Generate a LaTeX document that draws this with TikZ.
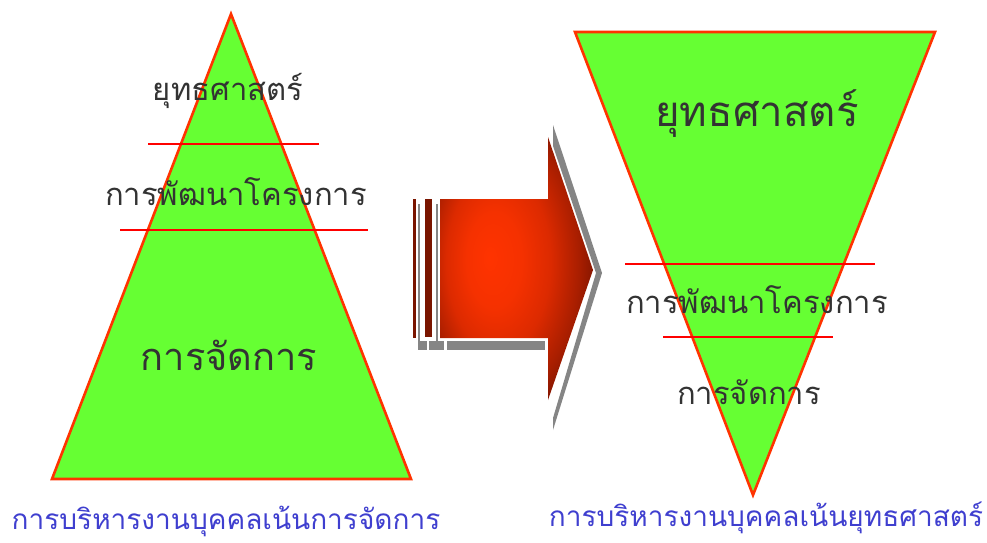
\documentclass[tikz,border=0pt]{standalone}
\usepackage{fontspec}
\newfontfamily\thaifont[Script=Thai]{Loma}
\definecolor{trifill}{HTML}{66FF33}
\definecolor{triedge}{HTML}{FF3300}
\definecolor{cutline}{HTML}{FF0000}
\definecolor{capblue}{HTML}{3F3FCF}
\definecolor{arrdark}{HTML}{7A1500}
\definecolor{arrc0}{HTML}{FF3300}
\definecolor{arrc1}{HTML}{F53100}
\definecolor{arrc2}{HTML}{DC2A00}
\definecolor{arrc3}{HTML}{A81E00}
\definecolor{arrc4}{HTML}{761200}
\definecolor{shadowgray}{HTML}{858585}
\pgfdeclareradialshading{arrowrad}{\pgfpoint{-9bp}{2bp}}{color(0bp)=(arrc0); color(9bp)=(arrc1); color(17bp)=(arrc2); color(25bp)=(arrc3); color(31bp)=(arrc4); color(50bp)=(arrc4)}
\tikzset{
  tri/.style={fill=trifill, draw=triedge, line width=2.6pt, line join=miter},
  cutln/.style={draw=cutline, line width=2.8pt},
  lbl/.style={font=\thaifont, text=black!80, inner sep=0pt},
  captext/.style={font=\thaifont, text=capblue, inner sep=0pt},
  shadowfill/.style={fill=shadowgray, draw=none},
  darkbar/.style={fill=arrdark, draw=none}
}
\begin{document}
\begin{tikzpicture}[x=1pt,y=-1pt]
\useasboundingbox (0,0) rectangle (987,542);
% left pyramid
\draw[tri] (231,14) -- (411,479) -- (52,479) -- cycle;
\draw[cutln] (148,144) -- (319,144);
\draw[cutln] (120,230) -- (368,230);
\node[lbl, font=\thaifont\fontsize{31}{36}\selectfont] (l1) at (228,91) {ยุทธศาสตร์};
\node[lbl, font=\thaifont\fontsize{31}{36}\selectfont] (l2) at (236,192) {การพัฒนาโครงการ};
\node[lbl, font=\thaifont\fontsize{38}{44}\selectfont] (l3) at (229,355) {การจัดการ};
% right inverted pyramid
\draw[tri] (575,32) -- (935,32) -- (753,495) -- cycle;
\draw[cutln] (625,264) -- (875,264);
\draw[cutln] (663,337) -- (833,337);
\node[lbl, font=\thaifont\fontsize{42}{48}\selectfont] (r1) at (757,114) {ยุทธศาสตร์};
\node[lbl, font=\thaifont\fontsize{31}{36}\selectfont] (r2) at (757,300) {การพัฒนาโครงการ};
\node[lbl, font=\thaifont\fontsize{31}{36}\selectfont] (r3) at (749,392) {การจัดการ};
% captions
\node[captext, font=\thaifont\fontsize{28}{32}\selectfont] (c1) at (226,521) {การบริหารงานบุคคลเน้นการจัดการ};
\node[captext, font=\thaifont\fontsize{28}{32}\selectfont] (c2) at (766,518) {การบริหารงานบุคคลเน้นยุทธศาสตร์};
% arrow shadow
\fill[shadowfill] (553,125) -- (602,273) -- (553,430) -- (553,418) -- (596,273) -- (553,146) -- cycle;
\fill[shadowfill] (447,341) rectangle (545,350);
\fill[shadowfill] (418,341) rectangle (427,350);
\fill[shadowfill] (429,341) rectangle (444,350);
\fill[shadowfill] (418,204) rectangle (420,341);
\fill[shadowfill] (436,204) rectangle (438,341);
% arrow body
\shade[shading=arrowrad] (440,199) -- (548,199) -- (548,137) -- (593,270) -- (548,400) -- (548,338) -- (440,338) -- cycle;
\fill[darkbar] (413,199) rectangle (416,338);
\fill[darkbar] (425,199) rectangle (432,337);
\end{tikzpicture}
\end{document}
